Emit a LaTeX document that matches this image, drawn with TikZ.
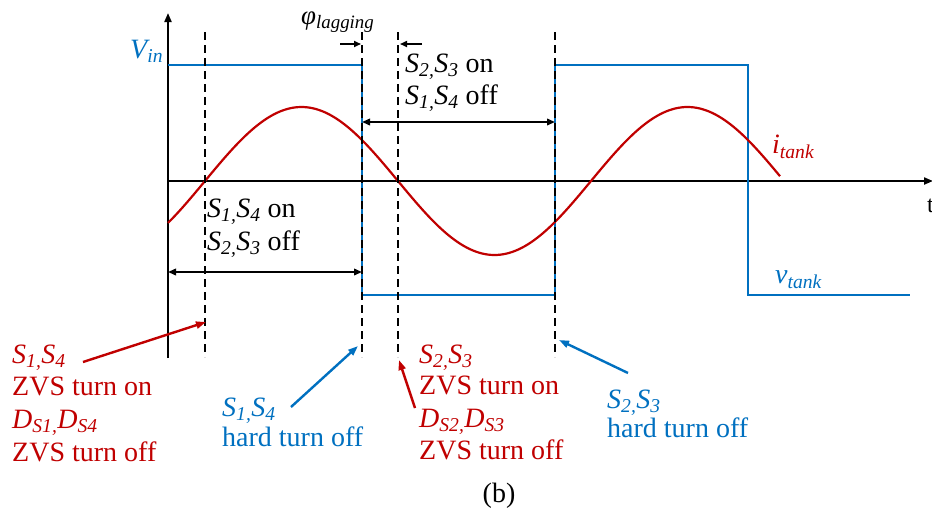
\documentclass[tikz,border=0pt]{standalone}
\usepackage{fontspec}
\setmainfont{Liberation Serif}
\usetikzlibrary{arrows.meta}
\definecolor{tred}{RGB}{192,0,0}
\definecolor{tblue}{RGB}{0,112,192}
\newcommand{\sbs}[1]{\textsubscript{#1}}
\begin{document}
\begin{tikzpicture}[x=1pt,y=-1pt,
  lbl/.style={font=\fontsize{28}{32}\selectfont, inner sep=0pt, anchor=base west},
  axisline/.style={line width=2pt, -{Triangle[length=9pt,width=7pt]}},
  guide/.style={line width=2pt, dash pattern=on 8pt off 5pt},
  dimarrow/.style={line width=2pt, {Triangle[length=8pt,width=6.5pt]}-{Triangle[length=8pt,width=6.5pt]}},
  smallarrow/.style={line width=1.6pt, -{Triangle[length=7pt,width=6pt]}},
  redpoint/.style={tred, line width=2.4pt, -{Triangle[length=10pt,width=7pt]}},
  bluepoint/.style={tblue, line width=2.4pt, -{Triangle[length=10pt,width=7pt]}},
  wave/.style={line width=2.2pt}
]
\useasboundingbox (0,0) rectangle (932,512);

% axes
\coordinate (O) at (168,181);
\coordinate (Ytop) at (168,13);
\coordinate (Ybot) at (168,358);
\coordinate (Xend) at (933,181);
\draw[line width=2pt] (Ybot) -- (O);
\draw[axisline] (O) -- (Ytop);
\draw[axisline] (O) -- (Xend);
\node[lbl, font=\fontsize{24}{28}\selectfont] (tlab) at (927,212) {t};

% v_tank
\draw[tblue, line width=2.6pt] (168,65) -- (362,65) -- (362,295) -- (555,295) -- (555,65) -- (748,65) -- (748,295) -- (910,295);

% i_tank
\draw[tred, wave] plot[domain=168:780, samples=200, smooth] (\x,{181-74*sin((\x-205)*0.932642)});

% guide lines
\coordinate (g1t) at (205,32); \coordinate (g1b) at (205,357);
\coordinate (g2t) at (362,32); \coordinate (g2b) at (362,357);
\coordinate (g3t) at (398,32); \coordinate (g3b) at (398,357);
\coordinate (g4t) at (555,32); \coordinate (g4b) at (555,357);
\draw[guide] (g1t) -- (g1b);
\draw[guide] (g2t) -- (g2b);
\draw[guide] (g3t) -- (g3b);
\draw[guide] (g4t) -- (g4b);

% phase lag marks
\node[inner sep=0pt, anchor=base west, font=\fontsize{27}{30}\selectfont] (phi) at (301,24) {\textit{φ\textsubscript{lagging}}};
\coordinate (pl1) at (340,44); \coordinate (pl2) at (361,44);
\coordinate (pr1) at (422,44); \coordinate (pr2) at (400,44);
\draw[smallarrow] (pl1) -- (pl2);
\draw[smallarrow] (pr1) -- (pr2);

% interval labels
\node[lbl] (on23) at (405,72) {\textit{S\sbs{2,}S\sbs{3}} on};
\node[lbl] (off14) at (405,104) {\textit{S\sbs{1,}S\sbs{4}} off};
\coordinate (d2a) at (362,122); \coordinate (d2b) at (555,122);
\draw[dimarrow] (d2a) -- (d2b);

\node[lbl] (on14) at (207,217) {\textit{S\sbs{1,}S\sbs{4}} on};
\node[lbl] (off23) at (207,250) {\textit{S\sbs{2,}S\sbs{3}} off};
\coordinate (d1a) at (168,272); \coordinate (d1b) at (362,272);
\draw[dimarrow] (d1a) -- (d1b);

% waveform labels
\node[lbl, tblue] (vin) at (130,58) {\textit{V\sbs{in}}};
\node[lbl, tred] (itank) at (772,153) {\textit{i\sbs{tank}}};
\node[lbl, tblue] (vtank) at (775,283) {\textit{v\sbs{tank}}};

% bottom annotations: S1,S4 ZVS
\node[lbl, tred] (r1a) at (12,363) {\textit{S\sbs{1,}S\sbs{4}}};
\node[lbl, tred] (r1b) at (12,395) {ZVS turn on};
\node[lbl, tred] (r1c) at (12,428) {\textit{D\sbs{S1,}D\sbs{S4}}};
\node[lbl, tred] (r1d) at (12,461) {ZVS turn off};
\coordinate (ra1) at (83,362); \coordinate (ra1e) at (206,322);
\draw[redpoint] (ra1) -- (ra1e);

% S1,S4 hard
\node[lbl, tblue] (b1a) at (222,416) {\textit{S\sbs{1,}S\sbs{4}}};
\node[lbl, tblue] (b1b) at (222,446) {hard turn off};
\coordinate (ba1) at (291,407); \coordinate (ba1e) at (358,346);
\draw[bluepoint] (ba1) -- (ba1e);

% S2,S3 ZVS
\node[lbl, tred] (r2a) at (419,363) {\textit{S\sbs{2,}S\sbs{3}}};
\node[lbl, tred] (r2b) at (419,394) {ZVS turn on};
\node[lbl, tred] (r2c) at (419,427) {\textit{D\sbs{S2,}D\sbs{S3}}};
\node[lbl, tred] (r2d) at (419,459) {ZVS turn off};
\coordinate (ra2) at (415,408); \coordinate (ra2e) at (399,360);
\draw[redpoint] (ra2) -- (ra2e);

% S2,S3 hard
\node[lbl, tblue] (b2a) at (607,408) {\textit{S\sbs{2,}S\sbs{3}}};
\node[lbl, tblue] (b2b) at (607,437) {hard turn off};
\coordinate (ba2) at (628,373); \coordinate (ba2e) at (559,340);
\draw[bluepoint] (ba2) -- (ba2e);

\node[inner sep=0pt, anchor=base, font=\fontsize{28}{30}\selectfont] (cap) at (499,502) {(b)};
\end{tikzpicture}
\end{document}
